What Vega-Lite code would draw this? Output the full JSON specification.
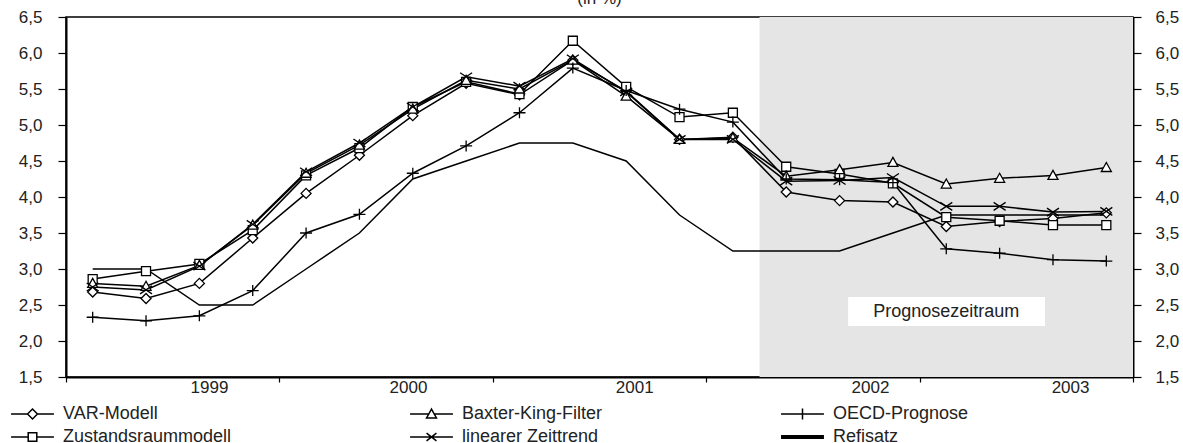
{
"$schema": "https://vega.github.io/schema/vega-lite/v6.json",
"width": 1067, "height": 360,
"autosize": {"type": "none"},
"padding": {"left": 66, "top": 17, "right": 50, "bottom": 66},
"background": "white",
"view": {"stroke": "black", "strokeWidth": 1.5},
"title": {"text": "(in %)", "fontSize": 17, "fontWeight": "normal", "font": "Liberation Sans", "color": "#222", "offset": 0, "anchor": "middle"},
"config": {
  "axis": {"labelFont": "Liberation Sans", "labelFontSize": 17, "labelColor": "#222", "domainColor": "black", "domainWidth": 2, "tickColor": "black", "tickWidth": 1.2, "grid": false, "title": null, "labelFlush": false, "labelOverlap": false},
  "legend": {"labelFont": "Liberation Sans", "labelFontSize": 18, "labelColor": "#222"}
},
"datasets": {
  "shade": [{"start": 12.5, "end": 19.5}],
  "note": [{"x1": 14.16, "x2": 17.85, "y1": 2.21, "y2": 2.61, "xm": 16.0, "ym": 2.4, "label": "Prognosezeitraum"}],
  "series": [
{"t":0,"s":"VAR-Modell","v":2.68},{"t":1,"s":"VAR-Modell","v":2.59},{"t":2,"s":"VAR-Modell","v":2.80},{"t":3,"s":"VAR-Modell","v":3.43},{"t":4,"s":"VAR-Modell","v":4.05},{"t":5,"s":"VAR-Modell","v":4.58},{"t":6,"s":"VAR-Modell","v":5.13},{"t":7,"s":"VAR-Modell","v":5.58},{"t":8,"s":"VAR-Modell","v":5.42},{"t":9,"s":"VAR-Modell","v":5.90},{"t":10,"s":"VAR-Modell","v":5.47},{"t":11,"s":"VAR-Modell","v":4.80},{"t":12,"s":"VAR-Modell","v":4.83},{"t":13,"s":"VAR-Modell","v":4.07},{"t":14,"s":"VAR-Modell","v":3.95},{"t":15,"s":"VAR-Modell","v":3.93},{"t":16,"s":"VAR-Modell","v":3.59},{"t":17,"s":"VAR-Modell","v":3.66},{"t":18,"s":"VAR-Modell","v":3.70},{"t":19,"s":"VAR-Modell","v":3.78},
{"t":0,"s":"Zustandsraummodell","v":2.86},{"t":1,"s":"Zustandsraummodell","v":2.97},{"t":2,"s":"Zustandsraummodell","v":3.07},{"t":3,"s":"Zustandsraummodell","v":3.54},{"t":4,"s":"Zustandsraummodell","v":4.30},{"t":5,"s":"Zustandsraummodell","v":4.68},{"t":6,"s":"Zustandsraummodell","v":5.25},{"t":7,"s":"Zustandsraummodell","v":5.60},{"t":8,"s":"Zustandsraummodell","v":5.43},{"t":9,"s":"Zustandsraummodell","v":6.17},{"t":10,"s":"Zustandsraummodell","v":5.53},{"t":11,"s":"Zustandsraummodell","v":5.11},{"t":12,"s":"Zustandsraummodell","v":5.17},{"t":13,"s":"Zustandsraummodell","v":4.42},{"t":14,"s":"Zustandsraummodell","v":4.32},{"t":15,"s":"Zustandsraummodell","v":4.19},{"t":16,"s":"Zustandsraummodell","v":3.72},{"t":17,"s":"Zustandsraummodell","v":3.67},{"t":18,"s":"Zustandsraummodell","v":3.61},{"t":19,"s":"Zustandsraummodell","v":3.61},
{"t":0,"s":"Baxter-King-Filter","v":2.80},{"t":1,"s":"Baxter-King-Filter","v":2.76},{"t":2,"s":"Baxter-King-Filter","v":3.05},{"t":3,"s":"Baxter-King-Filter","v":3.61},{"t":4,"s":"Baxter-King-Filter","v":4.33},{"t":5,"s":"Baxter-King-Filter","v":4.72},{"t":6,"s":"Baxter-King-Filter","v":5.22},{"t":7,"s":"Baxter-King-Filter","v":5.62},{"t":8,"s":"Baxter-King-Filter","v":5.50},{"t":9,"s":"Baxter-King-Filter","v":5.90},{"t":10,"s":"Baxter-King-Filter","v":5.40},{"t":11,"s":"Baxter-King-Filter","v":4.80},{"t":12,"s":"Baxter-King-Filter","v":4.82},{"t":13,"s":"Baxter-King-Filter","v":4.29},{"t":14,"s":"Baxter-King-Filter","v":4.38},{"t":15,"s":"Baxter-King-Filter","v":4.48},{"t":16,"s":"Baxter-King-Filter","v":4.18},{"t":17,"s":"Baxter-King-Filter","v":4.26},{"t":18,"s":"Baxter-King-Filter","v":4.30},{"t":19,"s":"Baxter-King-Filter","v":4.41},
{"t":0,"s":"linearer Zeittrend","v":2.75},{"t":1,"s":"linearer Zeittrend","v":2.71},{"t":2,"s":"linearer Zeittrend","v":3.04},{"t":3,"s":"linearer Zeittrend","v":3.62},{"t":4,"s":"linearer Zeittrend","v":4.35},{"t":5,"s":"linearer Zeittrend","v":4.75},{"t":6,"s":"linearer Zeittrend","v":5.25},{"t":7,"s":"linearer Zeittrend","v":5.67},{"t":8,"s":"linearer Zeittrend","v":5.54},{"t":9,"s":"linearer Zeittrend","v":5.92},{"t":10,"s":"linearer Zeittrend","v":5.46},{"t":11,"s":"linearer Zeittrend","v":4.80},{"t":12,"s":"linearer Zeittrend","v":4.80},{"t":13,"s":"linearer Zeittrend","v":4.22},{"t":14,"s":"linearer Zeittrend","v":4.23},{"t":15,"s":"linearer Zeittrend","v":4.27},{"t":16,"s":"linearer Zeittrend","v":3.87},{"t":17,"s":"linearer Zeittrend","v":3.87},{"t":18,"s":"linearer Zeittrend","v":3.79},{"t":19,"s":"linearer Zeittrend","v":3.80},
{"t":0,"s":"OECD-Prognose","v":2.33},{"t":1,"s":"OECD-Prognose","v":2.28},{"t":2,"s":"OECD-Prognose","v":2.35},{"t":3,"s":"OECD-Prognose","v":2.70},{"t":4,"s":"OECD-Prognose","v":3.50},{"t":5,"s":"OECD-Prognose","v":3.76},{"t":6,"s":"OECD-Prognose","v":4.33},{"t":7,"s":"OECD-Prognose","v":4.71},{"t":8,"s":"OECD-Prognose","v":5.17},{"t":9,"s":"OECD-Prognose","v":5.79},{"t":10,"s":"OECD-Prognose","v":5.48},{"t":11,"s":"OECD-Prognose","v":5.22},{"t":12,"s":"OECD-Prognose","v":5.04},{"t":13,"s":"OECD-Prognose","v":4.25},{"t":14,"s":"OECD-Prognose","v":4.24},{"t":15,"s":"OECD-Prognose","v":4.20},{"t":16,"s":"OECD-Prognose","v":3.28},{"t":17,"s":"OECD-Prognose","v":3.22},{"t":18,"s":"OECD-Prognose","v":3.13},{"t":19,"s":"OECD-Prognose","v":3.11},
{"t":0,"s":"Refisatz","v":3.0},{"t":1,"s":"Refisatz","v":3.0},{"t":2,"s":"Refisatz","v":2.5},{"t":3,"s":"Refisatz","v":2.5},{"t":4,"s":"Refisatz","v":3.0},{"t":5,"s":"Refisatz","v":3.5},{"t":6,"s":"Refisatz","v":4.25},{"t":7,"s":"Refisatz","v":4.5},{"t":8,"s":"Refisatz","v":4.75},{"t":9,"s":"Refisatz","v":4.75},{"t":10,"s":"Refisatz","v":4.5},{"t":11,"s":"Refisatz","v":3.75},{"t":12,"s":"Refisatz","v":3.25},{"t":13,"s":"Refisatz","v":3.25},{"t":14,"s":"Refisatz","v":3.25},{"t":15,"s":"Refisatz","v":3.5},{"t":16,"s":"Refisatz","v":3.75},{"t":17,"s":"Refisatz","v":3.75},{"t":18,"s":"Refisatz","v":3.75},{"t":19,"s":"Refisatz","v":3.75}
  ]
},
"layer": [
  {"data": {"name": "shade"},
   "mark": {"type": "rect", "fill": "#e5e5e5"},
   "encoding": {
     "x": {"field": "start", "type": "quantitative", "scale": {"domain": [-0.5, 19.5], "nice": false, "zero": false},
           "axis": {"orient": "bottom", "values": [-0.5, 3.5, 7.5, 11.5, 15.5, 19.5], "labels": false, "ticks": true, "tickSize": 5, "domain": true}},
     "x2": {"field": "end"}
   }},
  {"data": {"name": "note"},
   "mark": {"type": "rect", "fill": "white"},
   "encoding": {
     "x": {"field": "x1", "type": "quantitative", "axis": null},
     "x2": {"field": "x2"},
     "y": {"field": "y1", "type": "quantitative", "axis": null, "scale": {"domain": [1.5, 6.5], "nice": false, "zero": false}},
     "y2": {"field": "y2"}
   }},
  {"data": {"name": "note"},
   "mark": {"type": "text", "font": "Liberation Sans", "fontSize": 18, "color": "#222", "align": "center", "baseline": "middle"},
   "encoding": {
     "x": {"field": "xm", "type": "quantitative", "axis": null},
     "y": {"field": "ym", "type": "quantitative", "axis": null},
     "text": {"field": "label"}
   }},
  {"data": {"name": "series"},
   "mark": {"type": "line", "color": "black", "strokeWidth": 1.5},
   "encoding": {
     "x": {"field": "t", "type": "quantitative",
           "axis": {"orient": "bottom", "values": [2.18, 5.91, 10.15, 14.57, 18.32], "ticks": false, "tickSize": 0, "domain": false, "labelPadding": 2,
                    "labelExpr": "datum.value < 4 ? '1999' : datum.value < 8 ? '2000' : datum.value < 12 ? '2001' : datum.value < 16 ? '2002' : '2003'"}},
     "y": {"field": "v", "type": "quantitative", "scale": {"domain": [1.5, 6.5], "nice": false, "zero": false},
           "axis": {"orient": "left", "values": [1.5, 2, 2.5, 3, 3.5, 4, 4.5, 5, 5.5, 6, 6.5], "tickSize": 8, "labelPadding": 16,
                    "labelExpr": "replace(format(datum.value, '.1f'), '.', ',')"}},
     "detail": {"field": "s"}
   }},
  {"data": {"name": "series"},
   "transform": [{"filter": "datum.s !== 'Refisatz'"}],
   "mark": {"type": "point", "fill": "white", "stroke": "black", "strokeWidth": 1.3, "size": 100, "opacity": 1},
   "encoding": {
     "x": {"field": "t", "type": "quantitative", "axis": null},
     "y": {"field": "v", "type": "quantitative",
           "axis": {"orient": "right", "values": [1.5, 2, 2.5, 3, 3.5, 4, 4.5, 5, 5.5, 6, 6.5], "tickSize": 8, "labelPadding": 14,
                    "labelExpr": "replace(format(datum.value, '.1f'), '.', ',')"}},
     "shape": {"field": "s", "type": "nominal",
               "scale": {"domain": ["VAR-Modell", "Zustandsraummodell", "Baxter-King-Filter", "linearer Zeittrend", "OECD-Prognose"],
                         "range": ["M0,-1L1,0L0,1L-1,0Z", "M-0.9,-0.9H0.9V0.9H-0.9Z", "M0,-1L1,0.8L-1,0.8Z", "M-1.2,-0.8L1.2,0.8M-1.2,0.8L1.2,-0.8", "M-1.2,0H1.2M0,-1.1V1.1"]},
               "legend": null}
   }},
  {"data": {"name": "series"},
   "mark": {"type": "point", "filled": false, "color": "black", "strokeWidth": 1.5, "size": 0},
   "encoding": {
     "x": {"field": "t", "type": "quantitative", "axis": null},
     "y": {"field": "v", "type": "quantitative", "axis": null},
     "shape": {"field": "s", "type": "nominal",
               "scale": {"domain": ["VAR-Modell", "Baxter-King-Filter", "OECD-Prognose", "Zustandsraummodell", "linearer Zeittrend", "Refisatz"],
                         "range": ["M-1.65,0H-0.38M0.38,0H1.65M0,-0.38L0.38,0L0,0.38L-0.38,0Z",
                                   "M-1.65,0H-0.25M0.25,0H1.65M0,-0.38L0.38,0.3L-0.38,0.3Z",
                                   "M-1.65,0H1.65M0,-0.42V0.42",
                                   "M-1.65,0H-0.33M0.33,0H1.65M-0.33,-0.33H0.33V0.33H-0.33Z",
                                   "M-1.65,0H1.65M-0.38,-0.3L0.38,0.3M-0.38,0.3L0.38,-0.3",
                                   "M-1.65,-0.1H1.65M-1.65,-0.03H1.65M-1.65,0.03H1.65M-1.65,0.1H1.65"]},
               "legend": {"title": null, "orient": "none", "legendX": -47.5, "legendY": 383, "columns": 3, "direction": "horizontal",
                          "columnPadding": 175, "rowPadding": 0, "gridAlign": "each", "symbolSize": 676, "symbolStrokeWidth": 1.5,
                          "symbolStrokeColor": "black", "symbolOpacity": 1, "labelOffset": 16.5, "labelLimit": 400}}
   }}
],
"resolve": {"scale": {"shape": "independent"}, "axis": {"x": "independent", "y": "independent"}}
}
